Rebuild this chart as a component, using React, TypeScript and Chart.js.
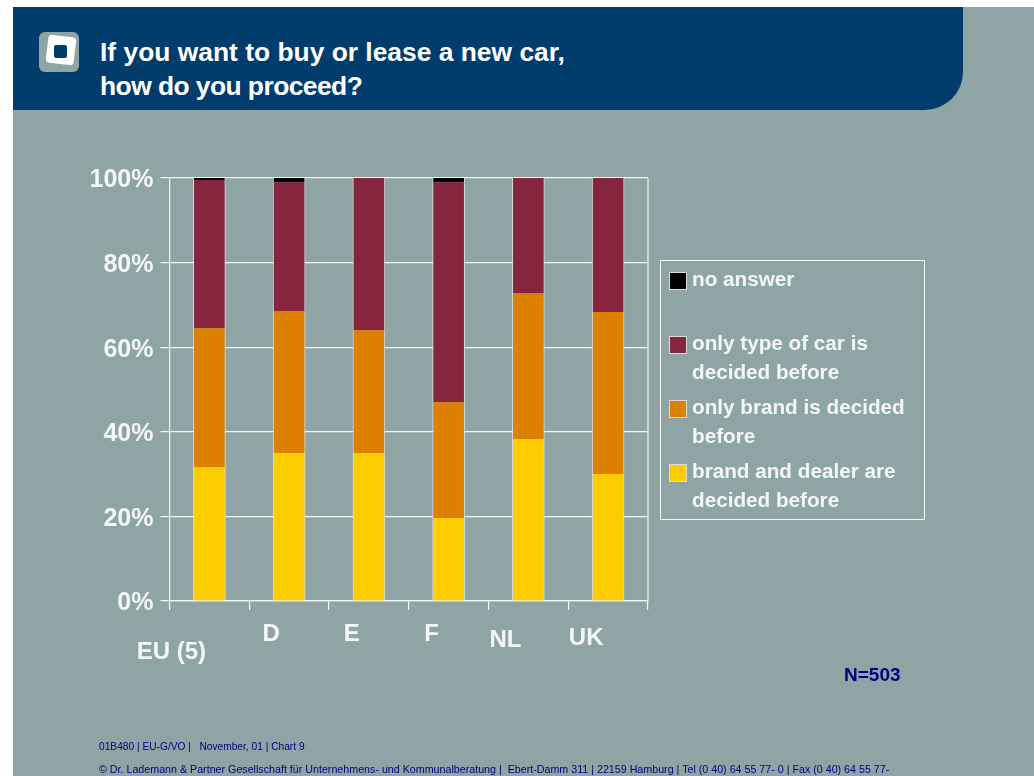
import React, { useEffect, useRef } from "react";
import { Chart, registerables } from "chart.js";

Chart.register(...registerables);

const categories = ["EU (5)", "D", "E", "F", "NL", "UK"];
const brandAndDealer = [31.7, 35, 35, 19.6, 38.3, 30];
const onlyBrand = [32.8, 33.5, 29, 27.4, 34.5, 38.3];
const onlyType = [35, 30.5, 36, 52, 27.2, 31.7];
const noAnswer = [0.5, 1, null, 1, null, null];
const yTicks = ["0%", "20%", "40%", "60%", "80%", "100%"];

const seriesNames = [
  "brand and dealer are decided before",
  "only brand is decided before",
  "only type of car is decided before",
  "no answer",
];
const seriesColors = ["#ffcc00", "#dd8000", "#87253f", "#000000"];
const legendLines = [
  ["no answer"],
  ["only type of car is", "decided before"],
  ["only brand is decided", "before"],
  ["brand and dealer are", "decided before"],
];
const legendColors = ["#000000", "#87253f", "#dd8000", "#ffcc00"];

// label nudges relative to each category centre: [dx, absolute y]
const xLabelNudge = [
  [-38, 652],
  [-18, 634],
  [-17, 634],
  [-17, 634],
  [-23, 640],
  [-22, 638],
];

const WHITE = "#f4f7f7";
const SANS = '"Liberation Sans", Arial, sans-serif';

const tweakPlugin = {
  id: "tweak",
  beforeDraw(chart: any) {
    const scale = chart.scales.x;
    scale.getLabelItems(chart.chartArea).forEach((item: any, i: number) => {
      const [dx, y] = xLabelNudge[i];
      item.options.translation = [scale.getPixelForTick(i) + dx, y];
      item.options.textBaseline = "middle";
      item.options.textAlign = "center";
      item.textOffset = 0;
    });
    const yScale = chart.scales.y;
    yScale.getLabelItems(chart.chartArea).forEach((item: any, i: number) => {
      item.options.translation = [item.options.translation[0], yScale.getPixelForTick(i) + 2.5];
    });
  },
  beforeDatasetsDraw(chart: any) {
    const { ctx, chartArea } = chart;
    ctx.save();
    ctx.strokeStyle = WHITE;
    ctx.lineWidth = 1.2;
    ctx.beginPath();
    ctx.moveTo(chartArea.right, chartArea.top);
    ctx.lineTo(chartArea.right, chartArea.bottom);
    ctx.stroke();
    ctx.restore();
  },
};

export default function App() {
  const ref = useRef<HTMLCanvasElement>(null);

  useEffect(() => {
    document.body.style.margin = "0";
    const chart = new Chart(ref.current as HTMLCanvasElement, {
      type: "bar",
      data: {
        labels: categories,
        datasets: [brandAndDealer, onlyBrand, onlyType, noAnswer].map((data, i) => ({
          label: seriesNames[i],
          data,
          backgroundColor: seriesColors[i],
          borderColor: "rgba(235,240,240,0.75)",
          borderWidth: { left: 1, right: 1 },
          borderSkipped: false,
          barThickness: 32,
        })),
      },
      options: {
        animation: false,
        responsive: false,
        events: [],
        layout: { padding: { left: 0, top: 178, right: 386, bottom: 0 } },
        plugins: { legend: { display: false }, title: { display: false }, tooltip: { enabled: false } },
        scales: {
          x: {
            stacked: true,
            afterFit: (s: any) => { s.height = 175; },
            border: { color: WHITE, width: 1.2 },
            grid: { drawOnChartArea: false, drawTicks: true, tickLength: 9, color: WHITE, tickColor: WHITE, lineWidth: 1.2 },
            ticks: {
              color: WHITE,
              font: { family: SANS, weight: "bold", size: 24 },
              maxRotation: 0,
              autoSkip: false,
            },
          },
          y: {
            stacked: true,
            min: 0,
            max: 100,
            afterFit: (s: any) => { s.width = 169.5; },
            border: { color: WHITE, width: 1.2 },
            grid: { color: WHITE, tickColor: WHITE, tickLength: 9, lineWidth: 1.2 },
            ticks: {
              stepSize: 20,
              padding: 7,
              color: WHITE,
              font: { family: SANS, weight: "bold", size: 25 },
              callback: (_v: any, i: number) => yTicks[i],
            },
          },
        },
      },
      plugins: [tweakPlugin],
    } as any);
    return () => chart.destroy();
  }, []);

  const abs = (style: React.CSSProperties): React.CSSProperties => ({ position: "absolute", ...style });

  return (
    <div style={{ position: "relative", width: 1034, height: 776, overflow: "hidden", background: "#fff", fontFamily: SANS }}>
      <div style={abs({ left: 13, top: 7, width: 1021, height: 769, background: "#8fa5a5" })} />
      <div style={abs({ left: 13, top: 7, width: 950, height: 103, background: "#003d6d", borderBottomRightRadius: 38 })} />

      <div style={abs({ left: 39, top: 32, width: 40, height: 40, background: "#8fa5a5", borderRadius: 6 })} />
      <div style={abs({ left: 47, top: 36, width: 28, height: 28, background: "#fff", borderRadius: 4, transform: "rotate(7deg)" })} />
      <div style={abs({ left: 54, top: 45, width: 13, height: 13, background: "#003d6d", borderRadius: 2 })} />

      <div style={abs({ left: 100, top: 35, color: "#fff", fontWeight: "bold", fontSize: 26.4, lineHeight: "34px", whiteSpace: "nowrap" })}>
        If you want to buy or lease a new car,
        <br />
        <span style={{ letterSpacing: -0.55 }}>how do you proceed?</span>
      </div>

      <canvas ref={ref} width={1034} height={776} style={abs({ left: 0, top: 0, width: 1034, height: 776 })} />

      <div style={abs({ left: 660, top: 260, width: 263, height: 258, border: `1px solid ${WHITE}`, boxSizing: "content-box" })} />
      {legendLines.map((lines, i) => (
        <React.Fragment key={i}>
          <div
            style={abs({
              left: 669,
              top: 271.5 + i * 64.3,
              width: 16,
              height: 16,
              background: legendColors[i],
              border: "1px solid #d8dede",
            })}
          />
          <div
            style={abs({
              left: 692,
              top: 263.5 + i * 64.3,
              color: WHITE,
              fontWeight: "bold",
              fontSize: 20.7,
              lineHeight: "29px",
              whiteSpace: "nowrap",
            })}
          >
            {lines.map((l, j) => (
              <div key={j}>{l}</div>
            ))}
          </div>
        </React.Fragment>
      ))}

      <div style={abs({ left: 844, top: 664, color: "#000080", fontWeight: "bold", fontSize: 19, lineHeight: "22px" })}>N=503</div>
      <div style={abs({ left: 99, top: 741, color: "#000080", fontSize: 10.2, lineHeight: "12px", whiteSpace: "pre" })}>
        {"01B480 | EU-G/VO |   November, 01 | Chart 9"}
      </div>
      <div style={abs({ left: 99, top: 763, color: "#000080", fontSize: 10.7, lineHeight: "12px", whiteSpace: "pre" })}>
        {"© Dr. Lademann & Partner Gesellschaft für Unternehmens- und Kommunalberatung |  Ebert-Damm 311 | 22159 Hamburg | Tel (0 40) 64 55 77- 0 | Fax (0 40) 64 55 77-"}
      </div>
    </div>
  );
}
